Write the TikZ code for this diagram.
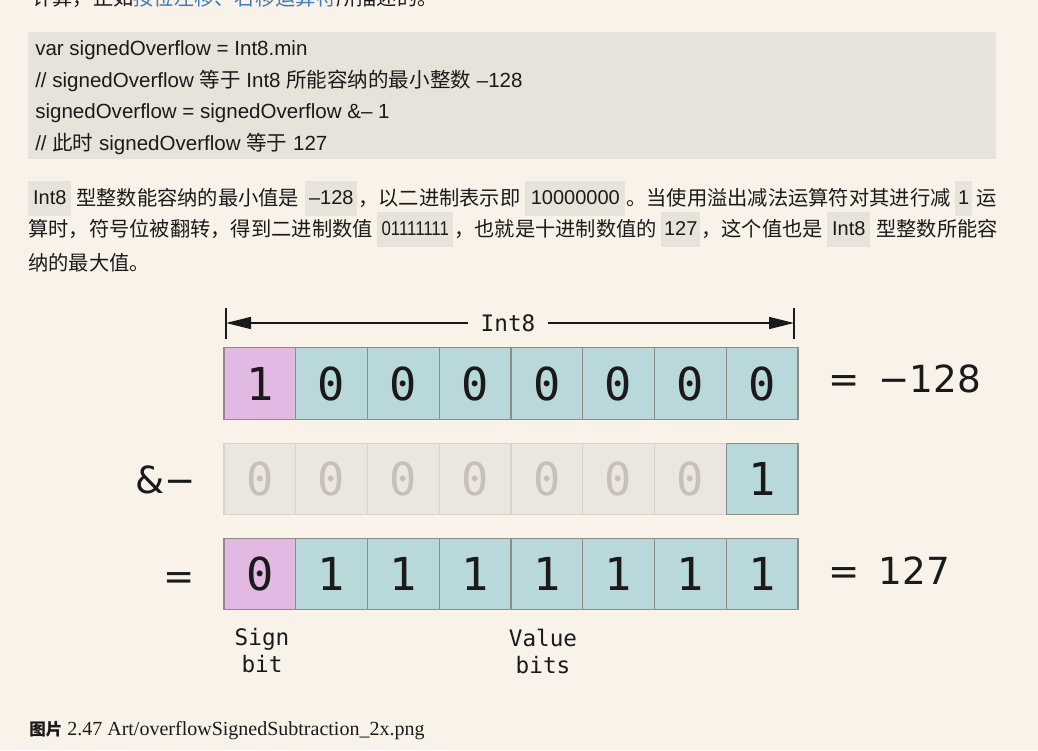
\documentclass[tikz,border=0pt]{standalone}
\usepackage{fontspec}
\setmainfont{Liberation Sans}
\newfontfamily\cjk{Noto Sans CJK SC}
\newfontfamily\bitfont[RawFeature=+zero]{DejaVu Sans Mono}
\newfontfamily\opfont{DejaVu Sans}
\newfontfamily\capfont{Liberation Serif}
\usetikzlibrary{arrows.meta}
\newcommand{\px}{0.75pt}
\newcommand{\cellw}{71.75}
\definecolor{pagebg}{HTML}{F9F2E9}
\definecolor{codebg}{HTML}{E8E3DA}
\definecolor{ink}{HTML}{1A1A1A}
\definecolor{linkblue}{HTML}{3F7BBA}
\definecolor{bitpink}{HTML}{E2B9E3}
\definecolor{bitteal}{HTML}{B8D8DA}
\definecolor{bitline}{HTML}{8E8C88}
\definecolor{fadefill}{HTML}{EBE6DF}
\definecolor{fadeline}{HTML}{D9D3CA}
\definecolor{fadetext}{HTML}{C6C0B8}
\tikzset{
	codeline/.style={anchor=west, inner sep=0pt, text=ink, font=\fontsize{15.4pt}{18pt}\selectfont},
	paraline/.style={anchor=west, inner sep=0pt, text=ink, font=\cjk\fontsize{15.2pt}{18pt}\selectfont},
	inlinecode/.style={anchor=west, fill=codebg, inner sep=0pt, minimum height=35*\px, text=ink, font=\fontsize{15pt}{18pt}\selectfont},
	bitcell/.style={draw=bitline, line width=1.1pt, fill=bitteal, minimum width=\cellw*\px, minimum height=71.5*\px, inner sep=0pt, text=ink, font=\bitfont\fontsize{34pt}{34pt}\selectfont},
	signcell/.style={bitcell, fill=bitpink},
	fadedcell/.style={bitcell, draw=fadeline, fill=fadefill, text=fadetext},
	monolabel/.style={inner sep=0pt, text=ink, align=center, font=\bitfont\fontsize{17pt}{20.25pt}\selectfont},
	result/.style={anchor=base west, inner sep=0pt, text=ink, font=\opfont\fontsize{28pt}{28pt}\selectfont},
	dimline/.style={line width=1.1pt, draw=ink},
}

\begin{document}
\begin{tikzpicture}[x=\px,y=-\px]
	\useasboundingbox (0,0) rectangle (1038,750);
	\clip (0,0) rectangle (1038,750);
	\fill[pagebg] (0,0) rectangle (1038,750);

	% end of the previous paragraph
	\node[paraline] (prev) at (32,-2) {计算，正如\textcolor{linkblue}{按位左移、右移运算符}所描述的。};

	% code block
	\fill[codebg] (28,32) rectangle (996,159);
	\node[codeline] (c1) at (35,50) {var signedOverflow = Int8.min};
	\node[codeline] (c2) at (35,81) {// signedOverflow {\cjk 等于} Int8 {\cjk 所能容纳的最小整数} –128};
	\node[codeline] (c3) at (35,113) {signedOverflow = signedOverflow \&– 1};
	\node[codeline] (c4) at (35,144) {// {\cjk 此时} signedOverflow {\cjk 等于} 127};

	% paragraph
	\node[inlinecode, minimum width=43*\px] (p1a) at (28,198) {Int8};
	\node[paraline] (p1b) at (76,198) {型整数能容纳的最小值是};
	\node[inlinecode, minimum width=52*\px] (p1c) at (305,198) {–128};
	\node[paraline] (p1d) at (358,198) {，以二进制表示即};
	\node[inlinecode, minimum width=100*\px] (p1e) at (525,198) {10000000};
	\node[paraline] (p1f) at (626,198) {。当使用溢出减法运算符对其进行减};
	\node[inlinecode, minimum width=17*\px] (p1g) at (955,198) {1};
	\node[paraline] (p1h) at (976,198) {运};

	\node[paraline] (p2a) at (28,229) {算时，符号位被翻转，得到二进制数值};
	\node[inlinecode, minimum width=76*\px] (p2b) at (377,229) {\scalebox{0.84}[1]{01111111}};
	\node[paraline] (p2c) at (454,229) {，也就是十进制数值的};
	\node[inlinecode, minimum width=39*\px] (p2d) at (661,229) {127};
	\node[paraline] (p2e) at (701,229) {，这个值也是};
	\node[inlinecode, minimum width=43*\px] (p2f) at (827,229) {Int8};
	\node[paraline] (p2g) at (876,229) {型整数所能容};

	\node[paraline] (p3a) at (28,263) {纳的最大值。};

	% Int8 width marker
	\coordinate (lbartop) at (226,308);
	\coordinate (lbarbot) at (226,339);
	\coordinate (rbartop) at (794,308);
	\coordinate (rbarbot) at (794,339);
	\draw[dimline] (lbartop) -- (lbarbot);
	\draw[dimline] (rbartop) -- (rbarbot);
	\node[monolabel, inner xsep=12*\px] (int8) at (508,323) {Int8};
	\draw[dimline, -{Triangle[length=18.75pt, width=9pt]}] (int8.west) -- (lbartop |- int8.west);
	\draw[dimline, -{Triangle[length=18.75pt, width=9pt]}] (int8.east) -- (rbartop |- int8.east);

	% -128
	\node[signcell] (top1) at ({224+\cellw*0.5},383.5) {1};
	\foreach \i in {2,...,8}
		\node[bitcell] (top\i) at ({224+\cellw*(\i-0.5)},383.5) {0};
	\node[result] (topval) at (828,392) {=\hspace{14.3pt}−128};

	% &- 1
	\node[result, anchor=base] (andminus) at (166,493) {\&−};
	\foreach \i in {1,...,7}
		\node[fadedcell] (mid\i) at ({224+\cellw*(\i-0.5)},479) {0};
	\node[bitcell] (mid8) at ({224+\cellw*7.5},479) {1};

	% 127
	\node[result, anchor=base] (boteqleft) at (179.5,589.5) {=};
	\node[signcell] (bot1) at ({224+\cellw*0.5},574) {0};
	\foreach \i in {2,...,8}
		\node[bitcell] (bot\i) at ({224+\cellw*(\i-0.5)},574) {1};
	\node[result] (botval) at (828,584) {=\hspace{14.3pt}127};

	\node[monolabel] (signlbl) at (262,651) {Sign\\bit};
	\node[monolabel] (valuelbl) at (543,651) {Value\\bits};

	% caption
	\node[anchor=west, inner sep=0pt, text=ink, font=\capfont\fontsize{15pt}{18pt}\selectfont] (caption) at (29,731)
		{{\cjk\bfseries\fontsize{12.4pt}{18pt}\selectfont 图片} 2.47 Art/overflowSignedSubtraction\_2x.png};
\end{tikzpicture}
\end{document}
